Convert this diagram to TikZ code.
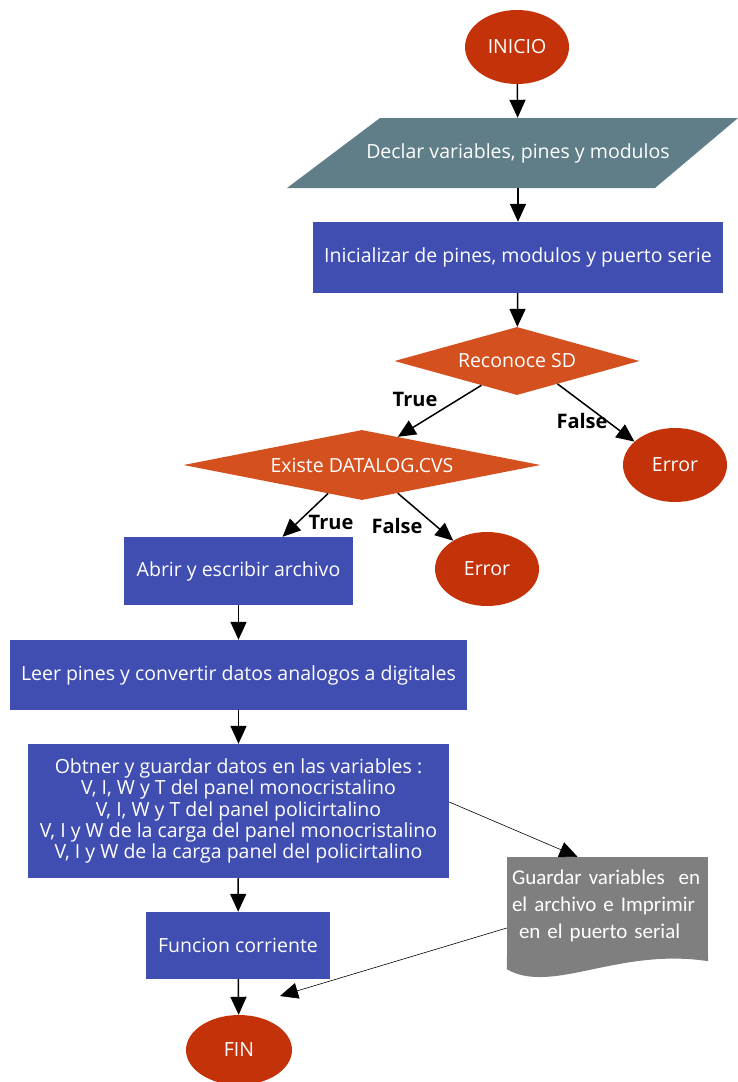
\documentclass[tikz,border=0pt]{standalone}
\usepackage{fontspec}
\setmainfont{Open Sans}
\newfontfamily\docfont{Carlito}
\usetikzlibrary{shapes.geometric,arrows.meta,calc}
\definecolor{termc}{RGB}{196,50,10}
\definecolor{decc}{RGB}{213,80,31}
\definecolor{procc}{RGB}{64,78,178}
\definecolor{ioc}{RGB}{95,126,136}
\definecolor{docc}{RGB}{127,127,127}
\begin{document}
\begin{tikzpicture}[x=1pt,y=-1pt,
  every node/.style={font=\fontsize{19.5}{21.3}\selectfont, text=white, inner sep=0pt},
  term/.style={ellipse, fill=termc, minimum width=104pt, minimum height=74pt},
  proc/.style={rectangle, fill=procc},
  dec/.style={diamond, aspect=5, fill=decc},
  lbl/.style={text=black, font=\fontsize{20}{22}\selectfont\bfseries},
  arr/.style={-{Triangle[length=18pt,width=16pt]}, line width=1.5pt},
  thinarr/.style={-{Triangle[length=18pt,width=16pt]}, line width=0.6pt}
]
\useasboundingbox (0,0) rectangle (738,1082);
% shapes
\node[term] (ini) at (517,47) {INICIO};
\fill[ioc] (380,118) -- (738,118) -- (655,188) -- (287,188) -- cycle;
\node[minimum width=280pt, minimum height=70pt] (decl) at (518,153) {Declar variables, pines y modulos};
\node[proc, minimum width=410pt, minimum height=71pt] (init) at (518,257.5) {Inicializar de pines, modulos y puerto serie};
\node[dec, minimum width=245pt, minimum height=68pt] (sd) at (517,361) {Reconoce SD};
\node[term] (err1) at (675,465) {Error};
\node[dec, minimum width=357pt, minimum height=70pt] (dl) at (362,465) {Existe DATALOG.CVS};
\node[proc, minimum width=229pt, minimum height=68pt] (ab) at (238.5,571) {Abrir y escribir archivo};
\node[term] (err2) at (487,569) {Error};
\node[proc, minimum width=457pt, minimum height=70pt] (leer) at (238.5,675) {Leer pines y convertir datos analogos a digitales};
\node[proc, minimum width=421pt, minimum height=134pt, align=center] (obt) at (238.5,811) {Obtner y guardar datos en las variables :\\V, I, W y T del panel monocristalino\\V, I, W y T del panel policirtalino\\V, I y W de la carga del panel monocristalino\\V, I y W de la carga panel del policirtalino};
\node[proc, minimum width=184pt, minimum height=67pt] (fun) at (238,945.5) {Funcion corriente};
\node[term, minimum width=106pt, minimum height=70pt] (fin) at (239,1050) {FIN};
\node[rectangle, fill=docc, minimum width=201pt, minimum height=98pt, text width=191pt, align=left, font=\docfont\fontsize{21}{27}\selectfont] (doc) at (607.5,906) {Guardar variables\ \ en\\el archivo e Imprimir\\\ en el puerto serial};
\fill[docc] (doc.south west) -- ($(doc.south west)+(0,14)$) .. controls ($(doc.south west)+(45,40)$) and ($(doc.south east)+(-90,-8)$) .. ($(doc.south east)+(0,6)$) -- (doc.south east) -- cycle;
% connectors
\draw[arr] (ini) -- (decl);
\draw[arr] (decl) -- (init);
\draw[arr] (init) -- (sd);
\draw[arr] ($(sd.south)!0.29!(sd.west)$) -- ($(dl.north)!0.2!(dl.east)$);
\draw[arr] ($(sd.south)!0.33!(sd.east)$) -- (err1.150);
\draw[arr] ($(dl.south)!0.19!(dl.west)$) -- ([xshift=44pt]ab.north);
\draw[arr] ($(dl.south)!0.2!(dl.east)$) -- (err2.140);
\draw[arr] (ab) -- (leer);
\draw[arr] (leer) -- (obt);
\draw[arr] (obt) -- (fun);
\draw[arr] (fun) -- (fin);
\draw[thinarr] ([yshift=9pt]obt.east) -- ([xshift=-30pt]doc.north);
\draw[thinarr] ([yshift=-22pt]doc.west) -- ($(fin.center)+(41,-54)$);
% labels
\node[lbl] (t1) at (415,399) {True};
\node[lbl] (f1) at (582,421) {False};
\node[lbl] (t2) at (331,522) {True};
\node[lbl] (f2) at (397,526) {False};
\end{tikzpicture}
\end{document}
